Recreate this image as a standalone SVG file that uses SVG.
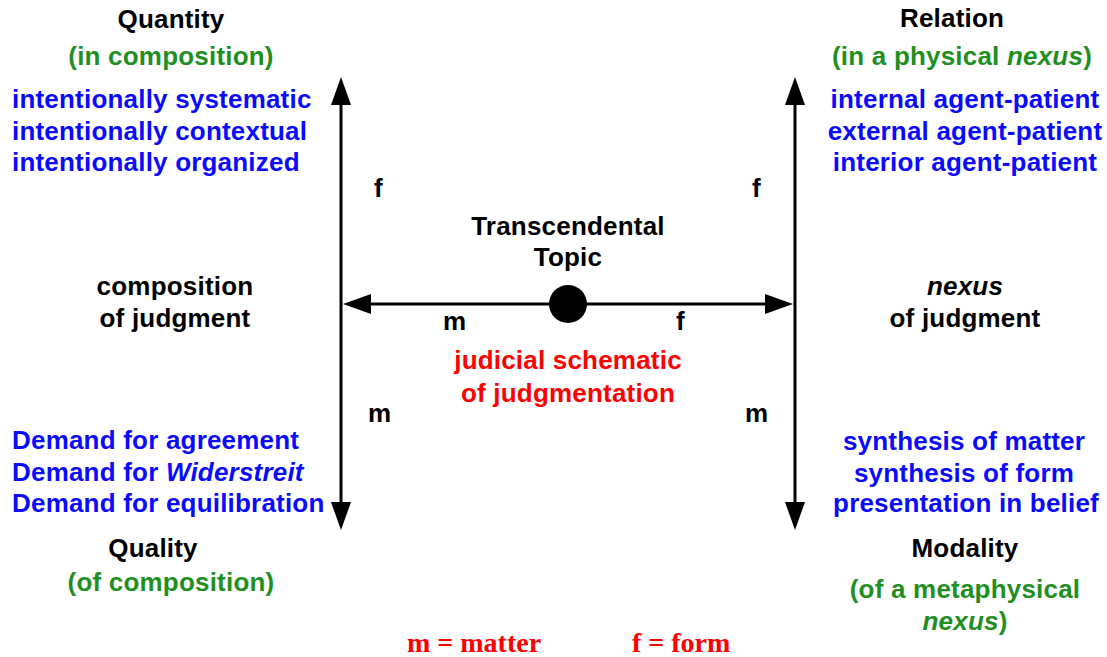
<svg xmlns="http://www.w3.org/2000/svg" width="1107" height="657" viewBox="0 0 1107 657">
<style>
text{font-family:"Liberation Sans",Arial,sans-serif;font-weight:bold;font-size:26px;letter-spacing:0.2px}
.c{text-anchor:middle}
.k{fill:#000}
.g{fill:#1f8f1f}
.b{fill:#0a0aff}
.r{fill:#ff0000}
.leg{font-family:"Liberation Serif","Times New Roman",serif;font-size:28px;letter-spacing:0;fill:#ff0000}
.ln{stroke:#000;stroke-width:3;fill:none;marker-end:url(#ah)}
</style>
<defs>
<marker id="ah" markerUnits="userSpaceOnUse" markerWidth="28" markerHeight="20" refX="20" refY="10" orient="auto">
<path d="M0,0 L28,10 L0,20 Z" fill="#000"/>
</marker>
</defs>
<rect width="1107" height="657" fill="#fff"/>
<g id="connectors">
<line class="ln" x1="341" y1="304" x2="341" y2="85"/>
<line class="ln" x1="341" y1="304" x2="341" y2="522"/>
<line class="ln" x1="795" y1="304" x2="795" y2="85"/>
<line class="ln" x1="795" y1="304" x2="795" y2="522"/>
<line class="ln" x1="568" y1="304" x2="351" y2="304"/>
<line class="ln" x1="568" y1="304" x2="785" y2="304"/>
<text class="k" x="374" y="197">f</text>
<text class="k" x="752" y="197">f</text>
<text class="k" x="443" y="330">m</text>
<text class="k" x="676" y="330">f</text>
<text class="k" x="368" y="422">m</text>
<text class="k" x="745" y="422">m</text>
</g>
<g id="center">
<circle cx="568" cy="304" r="19" fill="#000"/>
<text class="k c" x="568" y="235">Transcendental</text>
<text class="k c" x="568" y="266">Topic</text>
<text class="r c" x="568" y="369">judicial schematic</text>
<text class="r c" x="568" y="402">of judgmentation</text>
</g>
<g id="quantity">
<text class="k c" x="171" y="28">Quantity</text>
<text class="g c" x="171" y="65">(in composition)</text>
<text class="b" x="12" y="108">intentionally systematic</text>
<text class="b" x="12" y="140">intentionally contextual</text>
<text class="b" x="12" y="171">intentionally organized</text>
</g>
<g id="relation">
<text class="k c" x="952" y="27">Relation</text>
<text class="g c" x="962" y="65">(in a physical <tspan font-style="italic">nexus</tspan>)</text>
<text class="b c" x="965" y="108">internal agent-patient</text>
<text class="b c" x="965" y="140">external agent-patient</text>
<text class="b c" x="965" y="171">interior agent-patient</text>
</g>
<g id="composition">
<text class="k c" x="175" y="295">composition</text>
<text class="k c" x="175" y="327">of judgment</text>
</g>
<g id="nexus">
<text class="k c" x="965" y="295" font-style="italic">nexus</text>
<text class="k c" x="965" y="327">of judgment</text>
</g>
<g id="quality">
<text class="b" x="12" y="449">Demand for agreement</text>
<text class="b" x="12" y="481">Demand for <tspan font-style="italic">Widerstreit</tspan></text>
<text class="b" x="12" y="512">Demand for equilibration</text>
<text class="k c" x="153" y="557">Quality</text>
<text class="g c" x="171" y="591">(of composition)</text>
</g>
<g id="modality">
<text class="b c" x="964" y="450">synthesis of matter</text>
<text class="b c" x="964" y="482">synthesis of form</text>
<text class="b c" x="966" y="512">presentation in belief</text>
<text class="k c" x="965" y="557">Modality</text>
<text class="g c" x="965" y="598">(of a metaphysical</text>
<text class="g c" x="965" y="630"><tspan font-style="italic">nexus</tspan>)</text>
</g>
<g id="legend">
<text class="leg" x="407" y="652">m = matter</text>
<text class="leg" x="632" y="652">f = form</text>
</g>
</svg>
